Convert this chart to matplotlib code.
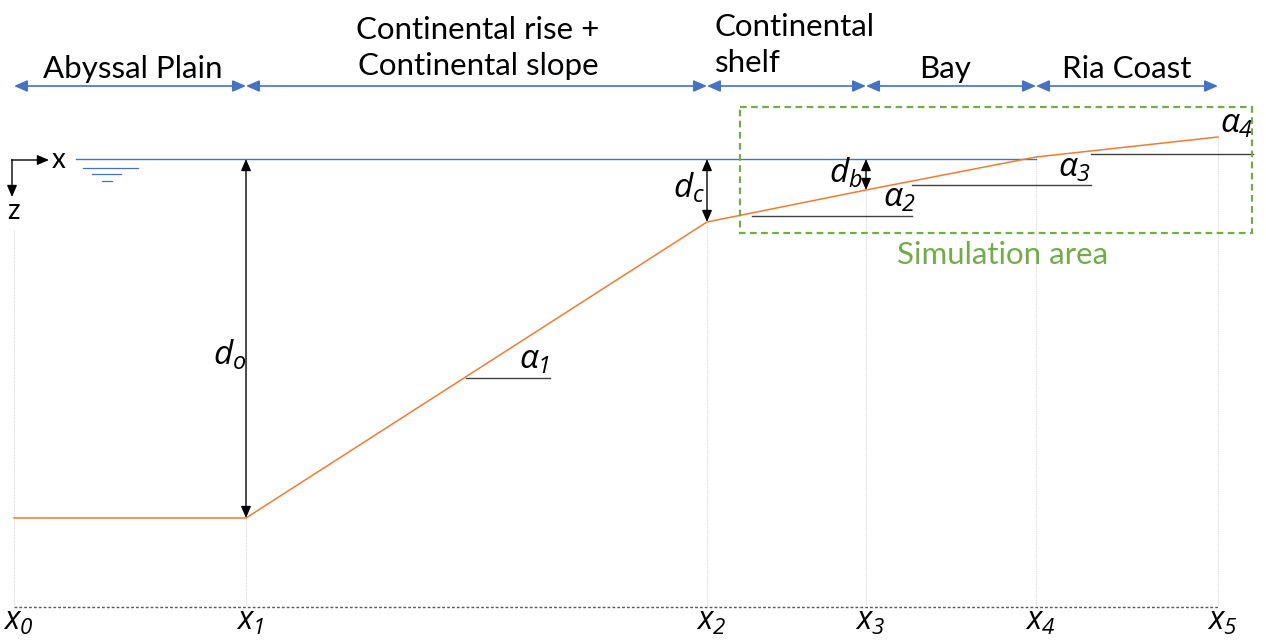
import matplotlib
matplotlib.use("Agg")
import matplotlib.pyplot as plt

plt.rcParams['font.family'] = ['Lato', 'DejaVu Sans']
plt.rcParams['mathtext.fontset'] = 'custom'
plt.rcParams['mathtext.it'] = 'Open Sans:italic'
plt.rcParams['mathtext.rm'] = 'Open Sans:italic'

# ---- data (schematic coordinates, pixel-like units) ----
x_positions = [14, 246, 707, 866, 1036, 1218]
x_labels = [r'$x_0$', r'$x_1$', r'$x_2$', r'$x_3$', r'$x_4$', r'$x_5$']
bed_depth = [518, 518, 222, 190, 157, 137]
water_level = 159
zone_names = ['Abyssal Plain', 'Continental rise +\nContinental slope',
              'Continental\nshelf', 'Bay', 'Ria Coast']
slope_labels = [r'$\alpha_1$', r'$\alpha_2$', r'$\alpha_3$', r'$\alpha_4$']
depth_labels = [r'$d_o$', r'$d_c$', r'$d_b$']

BLUE = '#4472C4'
ORANGE = '#ED7D31'
GREEN = '#70AD47'

fig = plt.figure(figsize=(12.66, 6.41), dpi=100)
ax = fig.add_axes([0, 0, 1, 1])
ax.set_xlim(0, 1266)
ax.set_ylim(641, 0)
ax.axis('off')

# vertical light grey guide lines
for xp, yb in zip(x_positions, bed_depth):
    top = 230 if xp == x_positions[0] else yb
    ax.plot([xp, xp], [top, 605], color='#d9d9d9', lw=0.8, ls=(0, (1, 1)), zorder=1)

# bottom dotted baseline
ax.plot([x_positions[0], x_positions[-1]], [607, 607], color='#595959', lw=1.0,
        ls=(0, (2, 1.5)), zorder=2)

# x tick labels
for xp, lab in zip(x_positions, x_labels):
    ax.text(xp + 4, 622, lab, fontsize=23, ha='center', va='center', color='black')

# zone arrows
arrow_y = 86
for i in range(len(x_positions) - 1):
    ax.annotate('', xy=(x_positions[i + 1], arrow_y), xytext=(x_positions[i], arrow_y),
                arrowprops=dict(arrowstyle='<|-|>,head_length=0.8,head_width=0.35',
                                color=BLUE, lw=1.2, shrinkA=0, shrinkB=0))

# zone labels
fs_zone = 22.5
ax.text(133, 69, zone_names[0], fontsize=fs_zone, ha='center', va='center')
ax.text(478, 48, zone_names[1], fontsize=fs_zone, ha='center', va='center', linespacing=1.38)
ax.text(715, 45, zone_names[2], fontsize=fs_zone, ha='left', va='center', linespacing=1.38)
ax.text(945, 69, zone_names[3], fontsize=fs_zone, ha='center', va='center')
ax.text(1127, 69, zone_names[4], fontsize=fs_zone, ha='center', va='center')

# water surface
ax.plot([76, 1036], [water_level, water_level], color=BLUE, lw=1.0, zorder=3)
for (xa, xb, yy) in [(83, 138, 168), (92, 121, 174), (102, 112, 181)]:
    ax.plot([xa, xb], [yy, yy], color=BLUE, lw=0.9)

# coordinate axes symbol
ax.annotate('', xy=(49, 160), xytext=(11.5, 160),
            arrowprops=dict(arrowstyle='-|>,head_length=0.7,head_width=0.3',
                            color='black', lw=1.0, shrinkA=0, shrinkB=0))
ax.annotate('', xy=(12, 197), xytext=(12, 159.5),
            arrowprops=dict(arrowstyle='-|>,head_length=0.7,head_width=0.3',
                            color='black', lw=1.0, shrinkA=0, shrinkB=0))
ax.text(59, 160, 'x', fontsize=20, ha='center', va='center')
ax.text(13, 211, 'z', fontsize=20, ha='center', va='center')

# sea bed
ax.plot(x_positions, bed_depth, color=ORANGE, lw=1.1, zorder=4)

# depth arrows
depth_arrows = [(x_positions[1], bed_depth[1], 230, 355),
                (x_positions[2], bed_depth[2], 689, 188),
                (x_positions[3], bed_depth[3], 846, 173)]
for (xp, yb, lx, ly), lab in zip(depth_arrows, depth_labels):
    ax.annotate('', xy=(xp, yb), xytext=(xp, water_level),
                arrowprops=dict(arrowstyle='<|-|>,head_length=0.7,head_width=0.3',
                                color='black', lw=1.0, shrinkA=0, shrinkB=0), zorder=5)
    ax.text(lx, ly, lab, fontsize=24, ha='center', va='center')

# slope reference lines and labels
slope_lines = [(466, 550, 378, 535, 361),
               (752, 912, 216, 900, 199),
               (912, 1091, 185, 1075, 169),
               (1091, 1253, 154, 1237, 125)]
for (xa, xb, yy, lx, ly), lab in zip(slope_lines, slope_labels):
    ax.plot([xa, xb], [yy, yy], color='#404040', lw=1.0)
    ax.text(lx, ly, lab, fontsize=24, ha='center', va='center')

# simulation area box
ax.add_patch(plt.Rectangle((740, 107), 512, 126, fill=False, ec=GREEN, lw=1.6,
                           ls=(0, (3, 2)), zorder=6))
ax.text(1003, 255, 'Simulation area', fontsize=22.5, color=GREEN, ha='center', va='center')

fig.savefig('out.png', dpi=100)
